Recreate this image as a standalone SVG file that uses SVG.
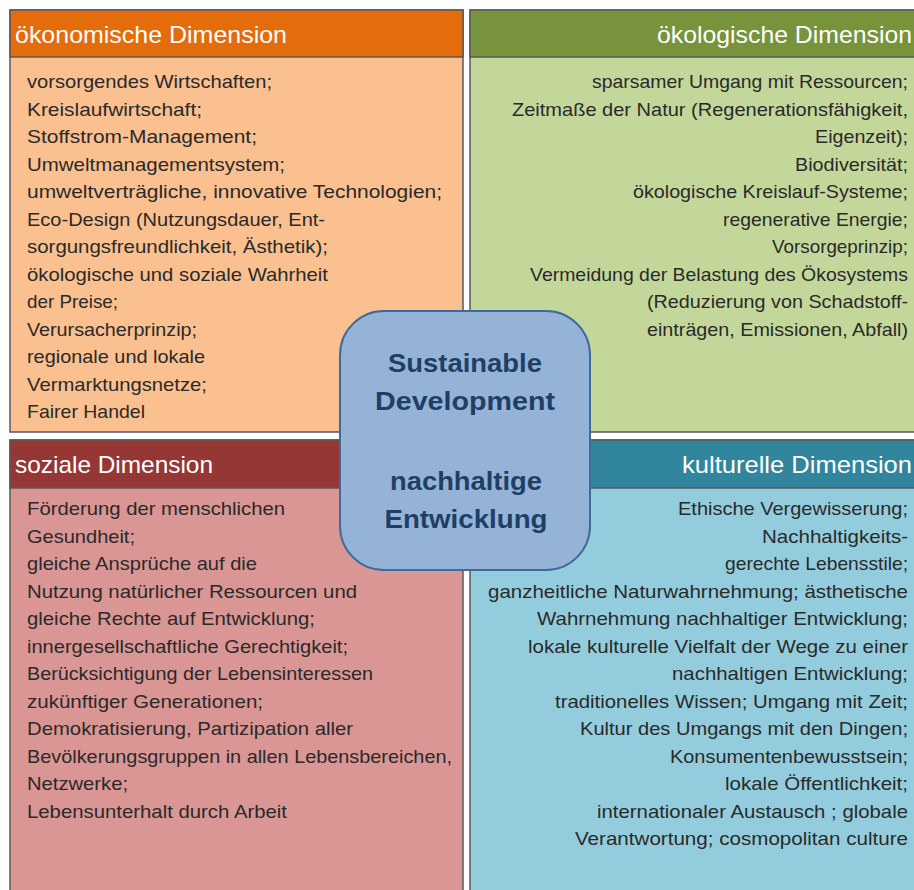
<svg xmlns="http://www.w3.org/2000/svg" width="914" height="890" viewBox="0 0 914 890">
<style>
.frame{stroke:#5a5a5a;stroke-width:1.5}
.hd{font-family:"Liberation Sans",Arial,sans-serif;font-size:24px;fill:#ffffff}
.tx{font-family:"Liberation Sans",Arial,sans-serif;font-size:19px;fill:#2a2a2a}
.r{text-anchor:end}
.ct{font-family:"Liberation Sans",Arial,sans-serif;font-size:26px;font-weight:bold;fill:#1f3f66;text-anchor:middle}
</style>
<rect width="914" height="890" fill="#ffffff"/>

<g id="oekonomisch">
<rect class="frame" x="10" y="10" width="453" height="422" fill="#FAC090"/>
<rect class="frame" x="10" y="10" width="453" height="47" fill="#E46C0A"/>
<text class="hd" x="15" y="43" textLength="272" lengthAdjust="spacingAndGlyphs">ökonomische Dimension</text>
<g class="tx">
<text x="27" y="88" textLength="245" lengthAdjust="spacingAndGlyphs">vorsorgendes Wirtschaften;</text>
<text x="27" y="115.5" textLength="175" lengthAdjust="spacingAndGlyphs">Kreislaufwirtschaft;</text>
<text x="27" y="143" textLength="230" lengthAdjust="spacingAndGlyphs">Stoffstrom-Management;</text>
<text x="27" y="170.5" textLength="258" lengthAdjust="spacingAndGlyphs">Umweltmanagementsystem;</text>
<text x="27" y="198" textLength="415" lengthAdjust="spacingAndGlyphs">umweltverträgliche, innovative  Technologien;</text>
<text x="27" y="225.5" textLength="298" lengthAdjust="spacingAndGlyphs">Eco-Design (Nutzungsdauer, Ent-</text>
<text x="27" y="253" textLength="301" lengthAdjust="spacingAndGlyphs">sorgungsfreundlichkeit, Ästhetik);</text>
<text x="27" y="280.5" textLength="301" lengthAdjust="spacingAndGlyphs">ökologische und soziale Wahrheit</text>
<text x="27" y="308" textLength="91" lengthAdjust="spacingAndGlyphs">der Preise;</text>
<text x="27" y="335.5" textLength="170" lengthAdjust="spacingAndGlyphs">Verursacherprinzip;</text>
<text x="27" y="363" textLength="178" lengthAdjust="spacingAndGlyphs">regionale und lokale</text>
<text x="27" y="390.5" textLength="180" lengthAdjust="spacingAndGlyphs">Vermarktungsnetze;</text>
<text x="27" y="418" textLength="118" lengthAdjust="spacingAndGlyphs">Fairer Handel</text>
</g>
</g>

<g id="oekologisch">
<rect class="frame" x="470" y="10" width="460" height="422" fill="#C4D79B"/>
<rect class="frame" x="470" y="10" width="460" height="47" fill="#77933C"/>
<text class="hd r" x="912" y="43" textLength="255" lengthAdjust="spacingAndGlyphs">ökologische Dimension</text>
<g class="tx r">
<text x="908" y="88" textLength="316" lengthAdjust="spacingAndGlyphs">sparsamer Umgang mit Ressourcen;</text>
<text x="908" y="115.5" textLength="396" lengthAdjust="spacingAndGlyphs">Zeitmaße der Natur (Regenerationsfähigkeit,</text>
<text x="908" y="143" textLength="93" lengthAdjust="spacingAndGlyphs">Eigenzeit);</text>
<text x="908" y="170.5" textLength="113" lengthAdjust="spacingAndGlyphs">Biodiversität;</text>
<text x="908" y="198" textLength="275" lengthAdjust="spacingAndGlyphs">ökologische Kreislauf-Systeme;</text>
<text x="908" y="225.5" textLength="185" lengthAdjust="spacingAndGlyphs">regenerative Energie;</text>
<text x="908" y="253" textLength="136" lengthAdjust="spacingAndGlyphs">Vorsorgeprinzip;</text>
<text x="908" y="280.5" textLength="378" lengthAdjust="spacingAndGlyphs">Vermeidung der Belastung des Ökosystems</text>
<text x="908" y="308" textLength="261" lengthAdjust="spacingAndGlyphs">(Reduzierung von Schadstoff-</text>
<text x="908" y="335.5" textLength="261" lengthAdjust="spacingAndGlyphs">einträgen, Emissionen, Abfall)</text>
</g>
</g>

<g id="sozial">
<rect class="frame" x="10" y="440" width="453" height="470" fill="#D99694"/>
<rect class="frame" x="10" y="440" width="453" height="48" fill="#953735"/>
<text class="hd" x="15" y="473" textLength="198" lengthAdjust="spacingAndGlyphs">soziale Dimension</text>
<g class="tx">
<text x="27" y="515" textLength="258" lengthAdjust="spacingAndGlyphs">Förderung der  menschlichen</text>
<text x="27" y="542.5" textLength="108" lengthAdjust="spacingAndGlyphs">Gesundheit;</text>
<text x="27" y="570" textLength="230" lengthAdjust="spacingAndGlyphs">gleiche Ansprüche auf die</text>
<text x="27" y="597.5" textLength="330" lengthAdjust="spacingAndGlyphs">Nutzung natürlicher Ressourcen  und</text>
<text x="27" y="625" textLength="288" lengthAdjust="spacingAndGlyphs">gleiche Rechte auf Entwicklung;</text>
<text x="27" y="652.5" textLength="321" lengthAdjust="spacingAndGlyphs">innergesellschaftliche Gerechtigkeit;</text>
<text x="27" y="680" textLength="346" lengthAdjust="spacingAndGlyphs">Berücksichtigung der Lebensinteressen</text>
<text x="27" y="707.5" textLength="236" lengthAdjust="spacingAndGlyphs">zukünftiger Generationen;</text>
<text x="27" y="735" textLength="326" lengthAdjust="spacingAndGlyphs">Demokratisierung, Partizipation  aller</text>
<text x="27" y="762.5" textLength="425" lengthAdjust="spacingAndGlyphs">Bevölkerungsgruppen in allen Lebensbereichen,</text>
<text x="27" y="790" textLength="101" lengthAdjust="spacingAndGlyphs">Netzwerke;</text>
<text x="27" y="817.5" textLength="260" lengthAdjust="spacingAndGlyphs">Lebensunterhalt durch Arbeit</text>
</g>
</g>

<g id="kulturell">
<rect class="frame" x="470" y="440" width="460" height="470" fill="#93CDDD"/>
<rect class="frame" x="470" y="440" width="460" height="48" fill="#31859C"/>
<text class="hd r" x="912" y="473" textLength="230" lengthAdjust="spacingAndGlyphs">kulturelle Dimension</text>
<g class="tx r">
<text x="908" y="515" textLength="230" lengthAdjust="spacingAndGlyphs">Ethische  Vergewisserung;</text>
<text x="908" y="542.5" textLength="146" lengthAdjust="spacingAndGlyphs">Nachhaltigkeits-</text>
<text x="908" y="570" textLength="183" lengthAdjust="spacingAndGlyphs">gerechte Lebensstile;</text>
<text x="908" y="597.5" textLength="420" lengthAdjust="spacingAndGlyphs">ganzheitliche Naturwahrnehmung; ästhetische</text>
<text x="908" y="625" textLength="371" lengthAdjust="spacingAndGlyphs">Wahrnehmung nachhaltiger Entwicklung;</text>
<text x="908" y="652.5" textLength="380" lengthAdjust="spacingAndGlyphs">lokale kulturelle Vielfalt der Wege zu einer</text>
<text x="908" y="680" textLength="236" lengthAdjust="spacingAndGlyphs">nachhaltigen Entwicklung;</text>
<text x="908" y="707.5" textLength="353" lengthAdjust="spacingAndGlyphs">traditionelles Wissen; Umgang mit Zeit;</text>
<text x="908" y="735" textLength="328" lengthAdjust="spacingAndGlyphs">Kultur des Umgangs mit den Dingen;</text>
<text x="908" y="762.5" textLength="238" lengthAdjust="spacingAndGlyphs">Konsumentenbewusstsein;</text>
<text x="908" y="790" textLength="183" lengthAdjust="spacingAndGlyphs">lokale Öffentlichkeit;</text>
<text x="908" y="817.5" textLength="311" lengthAdjust="spacingAndGlyphs">internationaler Austausch ; globale</text>
<text x="908" y="845" textLength="333" lengthAdjust="spacingAndGlyphs">Verantwortung; cosmopolitan  culture</text>
</g>
</g>

<g id="zentrum">
<rect x="340" y="311" width="250" height="259" rx="44" ry="44" fill="#95B3D7" stroke="#3F6A9C" stroke-width="2"/>
<text class="ct" x="465" y="372" textLength="154" lengthAdjust="spacingAndGlyphs">Sustainable</text>
<text class="ct" x="465" y="410" textLength="180" lengthAdjust="spacingAndGlyphs">Development</text>
<text class="ct" x="466" y="490" textLength="152" lengthAdjust="spacingAndGlyphs">nachhaltige</text>
<text class="ct" x="466" y="528" textLength="163" lengthAdjust="spacingAndGlyphs">Entwicklung</text>
</g>
</svg>
